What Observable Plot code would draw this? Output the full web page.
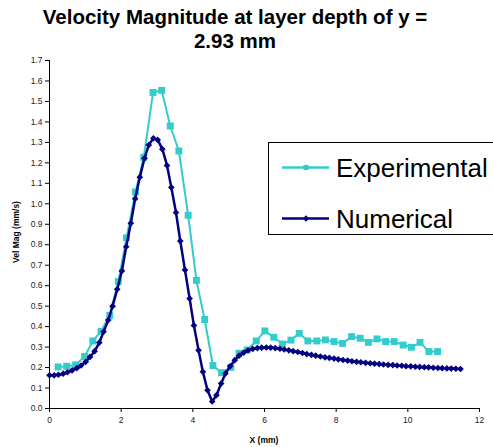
<!DOCTYPE html>
<html>
<head>
<meta charset="utf-8">
<script src="https://cdn.jsdelivr.net/npm/d3@7"></script>
<script src="https://cdn.jsdelivr.net/npm/@observablehq/plot@0.6"></script>
<style>
  html, body { margin: 0; padding: 0; background: white; overflow: hidden; }
  #chart svg { display: block; }
</style>
</head>
<body>
<div id="chart"></div>
<script>
// ---- data ----
const titleLines = ["Velocity Magnitude at layer depth of y =", "2.93 mm"];
const xLabel = "X (mm)";
const yLabel = "Vel Mag (mm/s)";
const seriesNames = ["Experimental", "Numerical"];
const xTicks = [0, 2, 4, 6, 8, 10, 12];
const yTicks = [0, 0.1, 0.2, 0.3, 0.4, 0.5, 0.6, 0.7, 0.8, 0.9, 1, 1.1, 1.2, 1.3, 1.4, 1.5, 1.6, 1.7];

const expX = [0.24, 0.48, 0.73, 0.98, 1.21, 1.44, 1.68, 1.92, 2.15, 2.40, 2.63, 2.89, 3.13, 3.37, 3.61, 3.87, 4.10, 4.33, 4.56, 4.80, 5.06, 5.29, 5.52, 5.77, 6.01, 6.26, 6.50, 6.74, 6.97, 7.21, 7.46, 7.70, 7.94, 8.18, 8.43, 8.67, 8.90, 9.14, 9.38, 9.62, 9.87, 10.10, 10.34, 10.59, 10.83];
const expV = [0.203, 0.206, 0.213, 0.254, 0.330, 0.377, 0.455, 0.620, 0.834, 1.058, 1.227, 1.544, 1.554, 1.380, 1.258, 0.944, 0.626, 0.435, 0.210, 0.175, 0.201, 0.270, 0.286, 0.330, 0.379, 0.348, 0.315, 0.334, 0.367, 0.330, 0.330, 0.335, 0.327, 0.318, 0.351, 0.343, 0.323, 0.340, 0.327, 0.327, 0.310, 0.299, 0.323, 0.278, 0.278];

const numX = [0, 0.13, 0.25, 0.38, 0.50, 0.63, 0.76, 0.88, 1.01, 1.13, 1.26, 1.39, 1.51, 1.64, 1.76, 1.89, 2.02, 2.14, 2.27, 2.39, 2.52, 2.65, 2.77, 2.90, 3.02, 3.15, 3.28, 3.40, 3.53, 3.65, 3.78, 3.91, 4.03, 4.16, 4.28, 4.41, 4.54, 4.66, 4.79, 4.91, 5.04, 5.17, 5.29, 5.42, 5.54, 5.67, 5.80, 5.92, 6.05, 6.17, 6.30, 6.43, 6.55, 6.68, 6.80, 6.93, 7.06, 7.18, 7.31, 7.43, 7.56, 7.69, 7.81, 7.94, 8.06, 8.19, 8.32, 8.44, 8.57, 8.69, 8.82, 8.95, 9.07, 9.20, 9.32, 9.45, 9.58, 9.70, 9.83, 9.95, 10.08, 10.21, 10.33, 10.46, 10.58, 10.71, 10.84, 10.96, 11.09, 11.21, 11.34, 11.47];
const numV = [0.162, 0.162, 0.165, 0.170, 0.177, 0.186, 0.197, 0.210, 0.228, 0.252, 0.280, 0.322, 0.375, 0.432, 0.500, 0.582, 0.672, 0.790, 0.905, 1.025, 1.130, 1.222, 1.287, 1.320, 1.312, 1.267, 1.187, 1.080, 0.957, 0.818, 0.677, 0.537, 0.406, 0.284, 0.179, 0.089, 0.034, 0.065, 0.122, 0.171, 0.206, 0.236, 0.258, 0.273, 0.284, 0.291, 0.295, 0.297, 0.298, 0.297, 0.295, 0.292, 0.288, 0.284, 0.280, 0.276, 0.271, 0.266, 0.262, 0.258, 0.254, 0.250, 0.247, 0.244, 0.240, 0.237, 0.234, 0.231, 0.228, 0.226, 0.223, 0.221, 0.219, 0.217, 0.215, 0.213, 0.212, 0.210, 0.209, 0.207, 0.206, 0.204, 0.203, 0.202, 0.201, 0.199, 0.198, 0.197, 0.196, 0.195, 0.194, 0.193];

const expColor = "#33CCCC";
const numColor = "#000080";

const exp = expX.map((x, i) => ({x, v: expV[i]}));
const num = numX.map((x, i) => ({x, v: numV[i]}));

const W = 493, H = 447;
const font = "'Liberation Sans', Arial, sans-serif";

const chart = Plot.plot({
  width: W,
  height: H,
  marginLeft: 49,
  marginRight: 14,
  marginTop: 60,
  marginBottom: 39,
  style: {fontFamily: font, fontSize: "8.5px", background: "white", color: "black", overflow: "hidden"},
  x: {domain: [0, 12], label: null},
  y: {domain: [0, 1.7], label: null},
  marks: [
    Plot.axisX({ticks: xTicks, tickSize: 4, tickPadding: 4, fontSize: 8.5, label: null, fill: "#222"}),
    Plot.axisY({ticks: yTicks, tickSize: 4, tickPadding: 3, fontSize: 8.5, label: null, fill: "#222"}),
    Plot.ruleY([0], {stroke: "black", strokeWidth: 1}),
    Plot.ruleX([0], {stroke: "black", strokeWidth: 1}),
    Plot.line(exp, {x: "x", y: "v", stroke: expColor, strokeWidth: 2}),
    Plot.dot(exp, {x: "x", y: "v", symbol: "square", fill: expColor, r: 3.9}),
    Plot.line(num, {x: "x", y: "v", stroke: numColor, strokeWidth: 2.5}),
    Plot.dot(num, {x: "x", y: "v", symbol: "diamond2", fill: numColor, r: 3.0})
  ]
});

const svg = d3.select(chart);

// title
titleLines.forEach((t, i) => {
  svg.append("text")
    .attr("x", 235).attr("y", 24 + i * 24)
    .attr("text-anchor", "middle")
    .style("font-family", font).style("font-size", "20.5px").style("font-weight", "bold")
    .attr("fill", "black")
    .text(t);
});

// axis labels
svg.append("text")
  .attr("transform", "translate(17,232) rotate(-90)")
  .attr("text-anchor", "middle").attr("dominant-baseline", "middle")
  .style("font-family", font).style("font-size", "8.5px").style("font-weight", "bold")
  .attr("fill", "black").text(yLabel);
svg.append("text")
  .attr("x", 264).attr("y", 443)
  .attr("text-anchor", "middle")
  .style("font-family", font).style("font-size", "8.5px").style("font-weight", "bold")
  .attr("fill", "black").text(xLabel);

// legend
const lg = svg.append("g");
lg.append("rect").attr("x", 268.5).attr("y", 142.5).attr("width", 240).attr("height", 92)
  .attr("fill", "white").attr("stroke", "black").attr("stroke-width", 1);
const rows = [
  {name: seriesNames[0], color: expColor, y: 167.5, sym: d3.symbolSquare, size: 26, w: 2.5},
  {name: seriesNames[1], color: numColor, y: 218.5, sym: d3.symbolDiamond2, size: 26, w: 2.5}
];
rows.forEach(r => {
  lg.append("line").attr("x1", 282).attr("x2", 329).attr("y1", r.y).attr("y2", r.y)
    .attr("stroke", r.color).attr("stroke-width", r.w);
  lg.append("path").attr("d", d3.symbol(r.sym, r.size)()).attr("transform", `translate(306,${r.y})`)
    .attr("fill", r.color);
  lg.append("text").attr("x", 336).attr("y", r.y + 9)
    .attr("text-anchor", "start")
    .style("font-family", font).style("font-size", "26px")
    .attr("fill", "black").text(r.name);
});

document.getElementById("chart").appendChild(chart);
</script>
</body>
</html>
